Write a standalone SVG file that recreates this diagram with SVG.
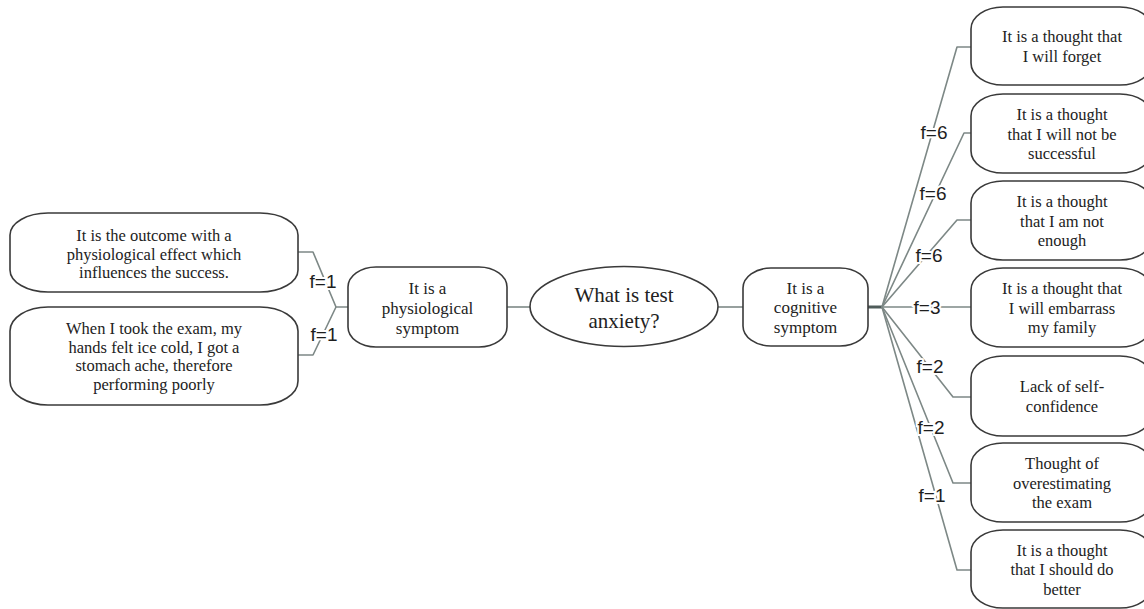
<svg xmlns="http://www.w3.org/2000/svg" width="1144" height="609" viewBox="0 0 1144 609">
<style>
.box{fill:#fff;stroke:#3a3a3a;stroke-width:1.6}
.t{font-family:"Liberation Serif","Times New Roman",serif;fill:#222;text-anchor:middle}
.s{font-size:16.5px}
.m{font-size:17px}
.b{font-size:21px}
.c{fill:none;stroke:#7d8886;stroke-width:1.6;stroke-linejoin:round}
.lbl{font-family:"Liberation Sans",Arial,sans-serif;font-size:19px;fill:#1e1e1e;text-anchor:middle;paint-order:stroke;stroke:#fff;stroke-width:4px}
</style>
<rect width="1144" height="609" fill="#fff"/>
<g id="connectors">
<polyline class="c" points="298,252 313,252 336,307 348,307"/>
<polyline class="c" points="298,355 313,355 336,307"/>
<line class="c" x1="507" y1="307" x2="530" y2="307"/>
<line class="c" x1="718" y1="307" x2="743" y2="307"/>
<line x1="868" y1="307" x2="883" y2="307" stroke="#4f5c5a" stroke-width="3"/>
<polyline class="c" points="882,307 957,47 972,47"/>
<polyline class="c" points="882,307 964,133 972,133"/>
<polyline class="c" points="882,307 957,220 971,220"/>
<polyline class="c" points="882,307 971,307"/>
<polyline class="c" points="882,307 953,397 971,397"/>
<polyline class="c" points="882,307 953,483 971,483"/>
<polyline class="c" points="882,307 957,570 972,570"/>
<text class="lbl" x="323" y="288">f=1</text>
<text class="lbl" x="324" y="341">f=1</text>
<text class="lbl" x="934" y="139">f=6</text>
<text class="lbl" x="933" y="200">f=6</text>
<text class="lbl" x="929" y="262">f=6</text>
<text class="lbl" x="927" y="314">f=3</text>
<text class="lbl" x="930" y="373">f=2</text>
<text class="lbl" x="931" y="434">f=2</text>
<text class="lbl" x="932" y="502">f=1</text>
</g>
<g id="n-outcome">
<rect class="box" x="10" y="213" width="288" height="79" rx="38" ry="22"/>
<text class="t s"><tspan x="154" y="241">It is the outcome with a</tspan><tspan x="154" y="259.5">physiological effect which</tspan><tspan x="154" y="278">influences the success.</tspan></text>
</g>
<g id="n-exam">
<rect class="box" x="10" y="307" width="288" height="98" rx="38" ry="24"/>
<text class="t s"><tspan x="154" y="334">When I took the exam, my</tspan><tspan x="154" y="352.5">hands felt ice cold, I got a</tspan><tspan x="154" y="371">stomach ache, therefore</tspan><tspan x="154" y="389.5">performing poorly</tspan></text>
</g>
<g id="n-physio">
<rect class="box" x="348" y="267" width="159" height="80" rx="28" ry="20"/>
<text class="t m"><tspan x="427.5" y="294">It is a</tspan><tspan x="427.5" y="314">physiological</tspan><tspan x="427.5" y="334">symptom</tspan></text>
</g>
<g id="n-center">
<ellipse class="box" cx="624" cy="306.5" rx="94" ry="40"/>
<text class="t b"><tspan x="624" y="302">What is test</tspan><tspan x="624" y="328">anxiety?</tspan></text>
</g>
<g id="n-cog">
<rect class="box" x="743" y="268" width="125" height="78" rx="28" ry="20"/>
<text class="t m"><tspan x="805.5" y="294">It is a</tspan><tspan x="805.5" y="313">cognitive</tspan><tspan x="805.5" y="333">symptom</tspan></text>
</g>
<g id="r1">
<rect class="box" x="971" y="7" width="181" height="78" rx="32" ry="22"/>
<text class="t s"><tspan x="1062" y="42">It is a thought that</tspan><tspan x="1062" y="62">I will forget</tspan></text>
</g>
<g id="r2">
<rect class="box" x="971" y="94" width="181" height="79" rx="32" ry="22"/>
<text class="t s"><tspan x="1062" y="120">It is a thought</tspan><tspan x="1062" y="139.5">that I will not be</tspan><tspan x="1062" y="159">successful</tspan></text>
</g>
<g id="r3">
<rect class="box" x="971" y="181" width="181" height="79" rx="32" ry="22"/>
<text class="t s"><tspan x="1062" y="207">It is a thought</tspan><tspan x="1062" y="226.5">that I am not</tspan><tspan x="1062" y="246">enough</tspan></text>
</g>
<g id="r4">
<rect class="box" x="971" y="268" width="181" height="79" rx="32" ry="22"/>
<text class="t s"><tspan x="1062" y="294">It is a thought that</tspan><tspan x="1062" y="313.5">I will embarrass</tspan><tspan x="1062" y="333">my family</tspan></text>
</g>
<g id="r5">
<rect class="box" x="971" y="356" width="181" height="80" rx="32" ry="22"/>
<text class="t s"><tspan x="1062" y="392">Lack of self-</tspan><tspan x="1062" y="412">confidence</tspan></text>
</g>
<g id="r6">
<rect class="box" x="971" y="443" width="181" height="79" rx="32" ry="22"/>
<text class="t s"><tspan x="1062" y="469">Thought of</tspan><tspan x="1062" y="488.5">overestimating</tspan><tspan x="1062" y="508">the exam</tspan></text>
</g>
<g id="r7">
<rect class="box" x="971" y="530" width="181" height="78" rx="32" ry="22"/>
<text class="t s"><tspan x="1062" y="555.5">It is a thought</tspan><tspan x="1062" y="575">that I should do</tspan><tspan x="1062" y="594.5">better</tspan></text>
</g>
</svg>
